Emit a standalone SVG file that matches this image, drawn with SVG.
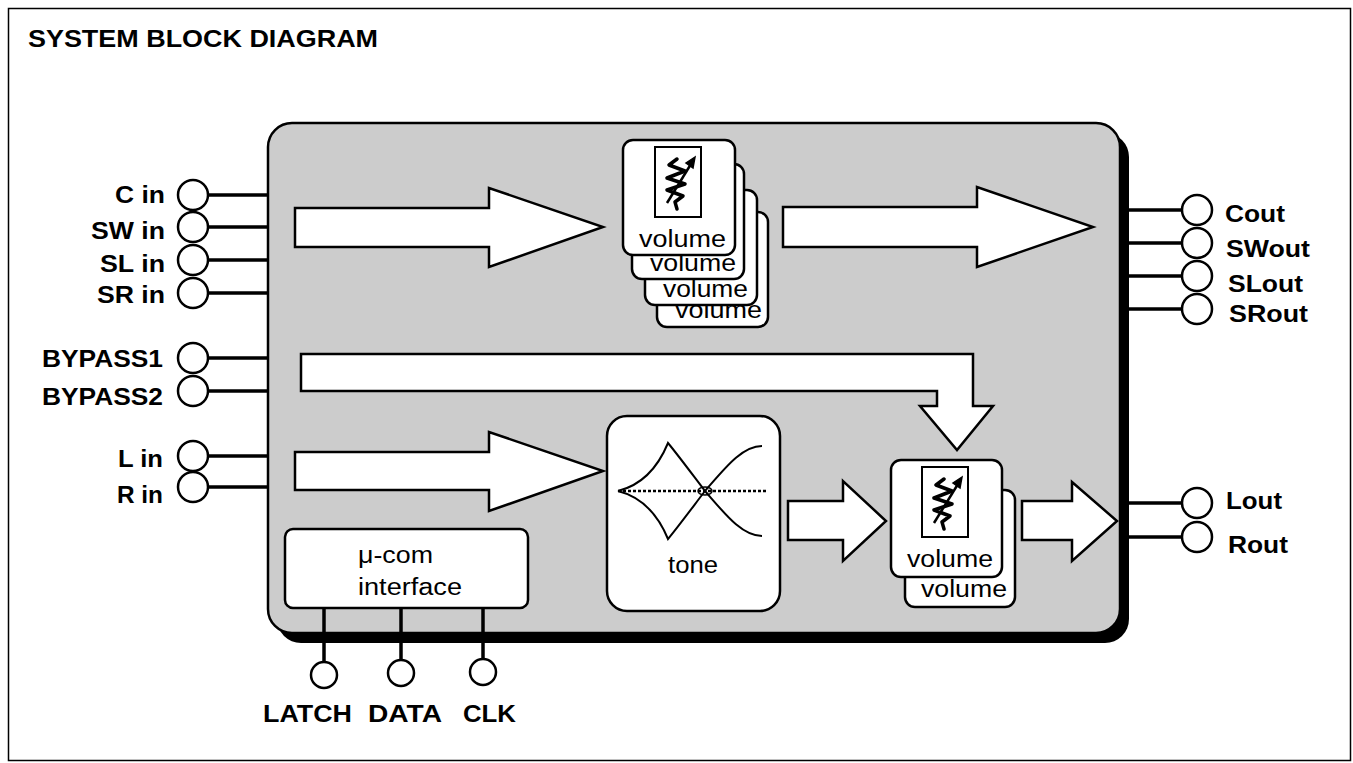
<svg xmlns="http://www.w3.org/2000/svg" xmlns:xlink="http://www.w3.org/1999/xlink" width="1353" height="763" viewBox="0 0 1353 763">
<defs>
<style>
.lbl{font-family:"Liberation Sans",Arial,sans-serif;font-weight:bold;font-size:23px;fill:#000}
.txt{font-family:"Liberation Sans",Arial,sans-serif;font-size:23px;fill:#000}
.pin{fill:#fff;stroke:#000;stroke-width:2.5}
.wire{stroke:#000;stroke-width:3.5;fill:none}
.barrow{fill:#fff;stroke:#000;stroke-width:2.5;stroke-linejoin:miter}
.card{fill:#fff;stroke:#000;stroke-width:2.5}
.glyph{fill:none;stroke:#000;stroke-width:3.5;stroke-linejoin:round;stroke-linecap:round}
</style>
<g id="res">
<rect x="0" y="0" width="46" height="70" fill="#fff" stroke="#000" stroke-width="2"/>
<polyline class="glyph" points="22,12 14,18 30,24 12,31 30,37 12,43 28,49 20,55 22,62"/>
<line x1="12" y1="56" x2="36" y2="17" stroke="#000" stroke-width="2.5"/>
<polygon points="40,10 31,16 38,21" fill="#000" stroke="#000" stroke-width="1.5"/>
</g>
</defs>
<rect x="0" y="0" width="1353" height="763" fill="#fff"/>
<rect x="8.5" y="8.5" width="1342" height="752" fill="none" stroke="#000" stroke-width="1.5"/>
<text class="lbl" x="28" y="47" textLength="350" lengthAdjust="spacingAndGlyphs" font-size="22">SYSTEM BLOCK DIAGRAM</text>

<g id="chip">
<rect x="277" y="133" width="852" height="510" rx="24" fill="#000"/>
<rect x="268" y="123" width="852" height="510" rx="24" fill="#cccccc" stroke="#000" stroke-width="2.5"/>
</g>

<g id="connectors">
<line class="wire" x1="208" y1="195" x2="268" y2="195"/>
<line class="wire" x1="208" y1="227" x2="268" y2="227"/>
<line class="wire" x1="208" y1="260" x2="268" y2="260"/>
<line class="wire" x1="208" y1="293" x2="268" y2="293"/>
<line class="wire" x1="208" y1="358" x2="268" y2="358"/>
<line class="wire" x1="208" y1="391" x2="268" y2="391"/>
<line class="wire" x1="208" y1="456" x2="268" y2="456"/>
<line class="wire" x1="208" y1="487" x2="268" y2="487"/>
<line class="wire" x1="1129" y1="210" x2="1182" y2="210"/>
<line class="wire" x1="1129" y1="243" x2="1182" y2="243"/>
<line class="wire" x1="1129" y1="276" x2="1182" y2="276"/>
<line class="wire" x1="1129" y1="309" x2="1182" y2="309"/>
<line class="wire" x1="1129" y1="503" x2="1182" y2="503"/>
<line class="wire" x1="1129" y1="537" x2="1182" y2="537"/>
<line class="wire" x1="324" y1="608" x2="324" y2="662"/>
<line class="wire" x1="401" y1="608" x2="401" y2="660"/>
<line class="wire" x1="483" y1="608" x2="483" y2="659"/>
<polygon class="barrow" points="295,208 489,208 489,188 603,227 489,267 489,247 295,247"/>
<polygon class="barrow" points="783,207 977,207 977,187 1093,227 977,267 977,247 783,247"/>
<polygon class="barrow" points="295,452 489,452 489,432 603,471 489,511 489,490 295,490"/>
<polygon class="barrow" points="301,354 973,354 973,406 993,406 957,450 920,406 937,406 937,391 301,391"/>
<polygon class="barrow" points="788,501 843,501 843,481 886,521 843,561 843,540 788,540"/>
<polygon class="barrow" points="1022,501 1072,501 1072,482 1117,521 1072,561 1072,540 1022,540"/>
</g>

<g id="pins-left">
<circle class="pin" cx="193" cy="195" r="15"/>
<circle class="pin" cx="193" cy="227" r="15"/>
<circle class="pin" cx="193" cy="260" r="15"/>
<circle class="pin" cx="193" cy="293" r="15"/>
<circle class="pin" cx="193" cy="358" r="15"/>
<circle class="pin" cx="193" cy="391" r="15"/>
<circle class="pin" cx="193" cy="456" r="15"/>
<circle class="pin" cx="193" cy="487" r="15"/>
<text class="lbl" x="115" y="203" textLength="50" lengthAdjust="spacingAndGlyphs">C in</text>
<text class="lbl" x="91" y="239" textLength="74" lengthAdjust="spacingAndGlyphs">SW in</text>
<text class="lbl" x="100" y="272" textLength="65" lengthAdjust="spacingAndGlyphs">SL in</text>
<text class="lbl" x="97" y="303" textLength="68" lengthAdjust="spacingAndGlyphs">SR in</text>
<text class="lbl" x="42" y="367" textLength="121" lengthAdjust="spacingAndGlyphs">BYPASS1</text>
<text class="lbl" x="42" y="405" textLength="121" lengthAdjust="spacingAndGlyphs">BYPASS2</text>
<text class="lbl" x="118" y="467" textLength="45" lengthAdjust="spacingAndGlyphs">L in</text>
<text class="lbl" x="117" y="503" textLength="46" lengthAdjust="spacingAndGlyphs">R in</text>
</g>

<g id="pins-right">
<circle class="pin" cx="1197" cy="210" r="15"/>
<circle class="pin" cx="1197" cy="243" r="15"/>
<circle class="pin" cx="1197" cy="276" r="15"/>
<circle class="pin" cx="1197" cy="309" r="15"/>
<circle class="pin" cx="1197" cy="503" r="15"/>
<circle class="pin" cx="1197" cy="537" r="15"/>
<text class="lbl" x="1225" y="222" textLength="60" lengthAdjust="spacingAndGlyphs">Cout</text>
<text class="lbl" x="1226" y="257" textLength="84" lengthAdjust="spacingAndGlyphs">SWout</text>
<text class="lbl" x="1228" y="292" textLength="75" lengthAdjust="spacingAndGlyphs">SLout</text>
<text class="lbl" x="1229" y="322" textLength="79" lengthAdjust="spacingAndGlyphs">SRout</text>
<text class="lbl" x="1226" y="509" textLength="56" lengthAdjust="spacingAndGlyphs">Lout</text>
<text class="lbl" x="1228" y="553" textLength="60" lengthAdjust="spacingAndGlyphs">Rout</text>
</g>

<g id="pins-bottom">
<circle class="pin" cx="324" cy="675" r="13"/>
<circle class="pin" cx="401" cy="673" r="13"/>
<circle class="pin" cx="483" cy="672" r="13"/>
<text class="lbl" x="263" y="722" textLength="89" lengthAdjust="spacingAndGlyphs">LATCH</text>
<text class="lbl" x="368" y="722" textLength="74" lengthAdjust="spacingAndGlyphs">DATA</text>
<text class="lbl" x="463" y="722" textLength="53" lengthAdjust="spacingAndGlyphs">CLK</text>
</g>

<g id="volume-stack-top">
<rect class="card" x="657" y="212" width="111" height="115" rx="10"/>
<text class="txt" x="675" y="318" textLength="87" lengthAdjust="spacingAndGlyphs" font-size="24">volume</text>
<rect class="card" x="645" y="190" width="112" height="115" rx="10"/>
<text class="txt" x="663" y="297" textLength="85" lengthAdjust="spacingAndGlyphs" font-size="24">volume</text>
<rect class="card" x="632" y="164" width="112" height="115" rx="10"/>
<text class="txt" x="650" y="271" textLength="86" lengthAdjust="spacingAndGlyphs" font-size="24">volume</text>
<rect class="card" x="623" y="140" width="112" height="115" rx="10"/>
<use xlink:href="#res" x="655" y="147"/>
<text class="txt" x="639" y="247" textLength="87" lengthAdjust="spacingAndGlyphs" font-size="24">volume</text>
</g>

<g id="tone">
<rect class="card" x="607" y="416" width="173" height="195" rx="20"/>
<line x1="618" y1="491" x2="767" y2="491" stroke="#000" stroke-width="2.5" stroke-dasharray="3,2"/>
<path d="M618,491 C638,486 656,472 668,443 C678,455 695,478 705,491 C725,514 742,536 762,536" fill="none" stroke="#000" stroke-width="2"/>
<path d="M618,491 C638,496 656,510 668,539 C678,527 695,504 705,491 C725,468 742,446 762,446" fill="none" stroke="#000" stroke-width="2"/>
<ellipse cx="705" cy="491" rx="7" ry="4" fill="none" stroke="#000" stroke-width="1.5"/>
<text class="txt" x="668" y="573" textLength="50" lengthAdjust="spacingAndGlyphs" font-size="24">tone</text>
</g>

<g id="volume-lr">
<rect class="card" x="905" y="490" width="110" height="117" rx="10"/>
<text class="txt" x="921" y="597" textLength="86" lengthAdjust="spacingAndGlyphs" font-size="24">volume</text>
<rect class="card" x="891" y="460" width="111" height="117" rx="10"/>
<use xlink:href="#res" x="922" y="467"/>
<text class="txt" x="907" y="567" textLength="86" lengthAdjust="spacingAndGlyphs" font-size="24">volume</text>
</g>

<g id="ucom">
<rect class="card" x="285" y="529" width="243" height="79" rx="8"/>
<text class="txt" x="358" y="563" textLength="75" lengthAdjust="spacingAndGlyphs">μ-com</text>
<text class="txt" x="358" y="595" textLength="104" lengthAdjust="spacingAndGlyphs">interface</text>
</g>
</svg>
